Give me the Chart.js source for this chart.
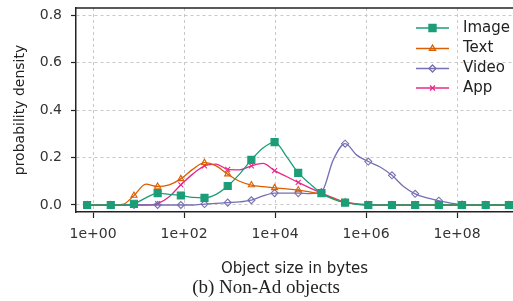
<!DOCTYPE html>
<html>
<head>
<meta charset="utf-8">
<script src="https://cdn.jsdelivr.net/npm/chart.js@4.4.1/dist/chart.umd.min.js"></script>
<style>
  body { margin: 0; background: #fff; }
  #wrap { width: 513px; height: 301px; }
</style>
</head>
<body>
<div id="wrap"><canvas id="densityChart" width="513" height="301"></canvas></div>
<script>
// object size, as log10(bytes)
const sizeExp = [-0.13, 0.13, 0.39, 0.645, 0.90, 1.16, 1.42, 1.675, 1.93, 2.19, 2.45, 2.705, 2.96,
    3.22, 3.48, 3.735, 3.99, 4.25, 4.51, 4.765, 5.02, 5.28, 5.54, 5.795, 6.05, 6.31, 6.57, 6.825,
    7.08, 7.34, 7.60, 7.855, 8.11, 8.37, 8.63, 8.885, 9.14];

const imageDensity = [0, 0, 0, 0, 0.005, 0.03, 0.05, 0.045, 0.04, 0.032, 0.03, 0.045, 0.08,
    0.13, 0.19, 0.24, 0.265, 0.205, 0.135, 0.09, 0.05, 0.025, 0.01, 0.003, 0, 0, 0, 0,
    0, 0, 0, 0, 0, 0, 0, 0, 0];
const textDensity = [0, 0, 0, 0.002, 0.04, 0.088, 0.078, 0.085, 0.11, 0.15, 0.178, 0.165, 0.13,
    0.1, 0.084, 0.077, 0.072, 0.068, 0.063, 0.055, 0.045, 0.028, 0.012, 0.004, 0, 0, 0, 0,
    0, 0, 0, 0, 0, 0, 0, 0, 0];
const videoDensity = [0, 0, 0, 0, 0, 0, 0, 0, 0, 0, 0.004, 0.007, 0.01,
    0.013, 0.02, 0.038, 0.05, 0.05, 0.05, 0.048, 0.055, 0.19, 0.258, 0.21, 0.183, 0.16, 0.125, 0.078,
    0.047, 0.03, 0.018, 0.008, 0.002, 0, 0, 0, 0];
const appDensity = [0, 0, 0, 0, 0, 0, 0.006, 0.035, 0.085, 0.13, 0.165, 0.172, 0.15,
    0.148, 0.165, 0.175, 0.145, 0.12, 0.095, 0.072, 0.05, 0.03, 0.012, 0.005, 0.002, 0, 0, 0,
    0, 0, 0, 0, 0, 0, 0, 0, 0];

const seriesNames = ['Image', 'Text', 'Video', 'App'];
const xTickExp = [0, 2, 4, 6, 8];
const yTicks = [0, 0.2, 0.4, 0.6, 0.8];

const colors = ['#1b9e77', '#d95f02', '#7570b3', '#e7298a'];
const markers = [
    { pointStyle: 'rect', radius: 5, fill: '#1b9e77' },
    { pointStyle: 'triangle', radius: 3.5, fill: 'rgba(255,255,255,0)' },
    { pointStyle: 'rectRot', radius: 3.5, fill: 'rgba(255,255,255,0)' },
    { pointStyle: 'crossRot', radius: 3.5, fill: 'rgba(255,255,255,0)' }
];

Chart.defaults.font.family = '"DejaVu Sans", sans-serif';
Chart.defaults.color = '#333';

function toPoints(values) {
    return values.map((v, i) => ({ x: sizeExp[i], y: v }));
}

const allSeries = [imageDensity, textDensity, videoDensity, appDensity];
const datasets = allSeries.map((vals, i) => ({
    label: seriesNames[i],
    data: toPoints(vals),
    borderColor: colors[i],
    backgroundColor: markers[i].fill,
    borderWidth: 1.3,
    cubicInterpolationMode: 'monotone',
    pointStyle: markers[i].pointStyle,
    pointRadius: ctx => ctx.dataIndex % 2 === 0 ? markers[i].radius : 0,
    pointBorderWidth: 1.1,
    pointBorderColor: colors[i],
    pointBackgroundColor: markers[i].fill
}));

// box top line, legend with line + marker, caption below
const extras = {
    id: 'extras',
    afterDraw(chart) {
        const ctx = chart.ctx;
        const area = chart.chartArea;
        ctx.save();
        ctx.strokeStyle = '#222';
        ctx.lineWidth = 1.5;
        ctx.beginPath();
        ctx.moveTo(area.left - 0.75, area.top);
        ctx.lineTo(area.right, area.top);
        ctx.stroke();

        const rowY = [28, 48.5, 68.5, 88];
        seriesNames.forEach((name, i) => {
            const y = rowY[i];
            ctx.strokeStyle = colors[i];
            ctx.lineWidth = 1.3;
            ctx.beginPath();
            ctx.moveTo(416, y);
            ctx.lineTo(449, y);
            ctx.stroke();
            ctx.fillStyle = markers[i].fill;
            Chart.helpers.drawPoint(ctx, {
                pointStyle: markers[i].pointStyle,
                radius: markers[i].radius,
                borderWidth: 1.1,
                rotation: 0
            }, 432.5, y);
            ctx.fillStyle = '#222';
            ctx.font = '15px "DejaVu Sans"';
            ctx.textAlign = 'left';
            ctx.textBaseline = 'middle';
            ctx.fillText(name, 463, y);
        });

        ctx.fillStyle = '#222';
        ctx.font = '19px "Liberation Serif"';
        ctx.textAlign = 'center';
        ctx.textBaseline = 'middle';
        ctx.fillText('(b) Non-Ad objects', 266, 288);
        ctx.restore();
    }
};

new Chart(document.getElementById('densityChart').getContext('2d'), {
    type: 'line',
    data: { datasets: datasets },
    options: {
        responsive: false,
        animation: false,
        layout: { autoPadding: false, padding: { top: 8, right: 0, left: 0, bottom: 0 } },
        plugins: { legend: { display: false }, tooltip: { enabled: false } },
        scales: {
            x: {
                type: 'linear',
                min: -0.374,
                max: 9.23,
                afterBuildTicks: scale => { scale.ticks = xTickExp.map(v => ({ value: v })); },
                afterFit: scale => {
                    scale.height = 89;
                    scale.paddingLeft = 0;
                    scale.paddingRight = 0;
                },
                ticks: {
                    padding: 8,
                    color: '#333',
                    font: { size: 14 },
                    callback: v => '1e+' + String(v).padStart(2, '0')
                },
                grid: {
                    color: '#c8c8c8',
                    lineWidth: 1,
                    tickLength: 6,
                    tickColor: '#222',
                    tickWidth: 1.2,
                    tickBorderDash: []
                },
                border: { color: '#222', width: 1.5, dash: [3, 3] },
                title: {
                    display: true,
                    text: 'Object size in bytes',
                    color: '#222',
                    font: { size: 15 },
                    padding: { top: 0, bottom: 23 }
                }
            },
            y: {
                min: -0.0295,
                max: 0.8295,
                afterBuildTicks: scale => { scale.ticks = yTicks.map(v => ({ value: v })); },
                afterFit: scale => {
                    scale.width = 76;
                    scale.paddingTop = 0;
                    scale.paddingBottom = 0;
                },
                ticks: {
                    padding: 9,
                    color: '#333',
                    font: { size: 14 },
                    callback: v => v.toFixed(1)
                },
                grid: {
                    color: '#c8c8c8',
                    lineWidth: 1,
                    tickLength: 5,
                    tickColor: '#222',
                    tickWidth: 1.2,
                    tickBorderDash: []
                },
                border: { color: '#222', width: 1.5, dash: [3, 3] },
                title: {
                    display: true,
                    text: 'probability density',
                    color: '#222',
                    font: { size: 14 },
                    padding: { top: 12, bottom: 0 }
                }
            }
        }
    },
    plugins: [extras]
});
</script>
</body>
</html>
